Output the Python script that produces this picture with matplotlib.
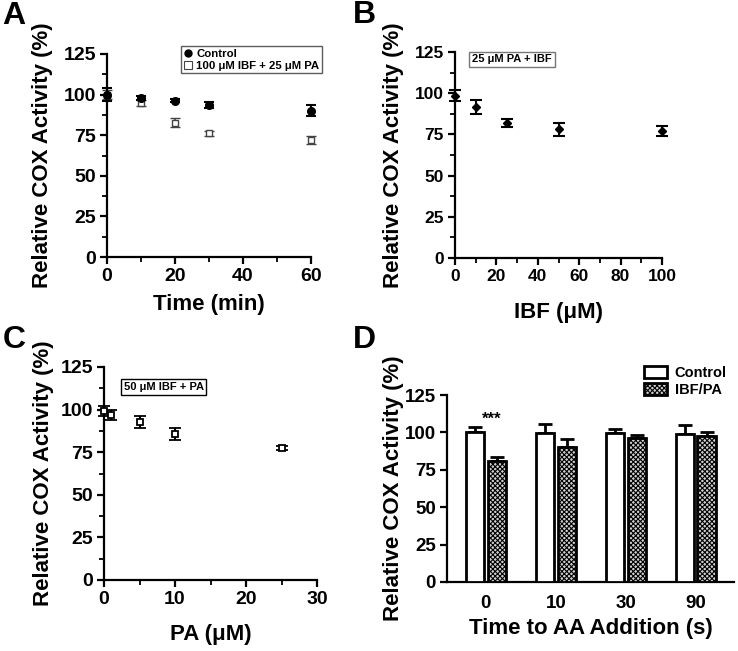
import matplotlib
matplotlib.use("Agg")
import matplotlib.pyplot as plt
from matplotlib.lines import Line2D
from matplotlib.patches import Patch
import numpy as np

plt.rcParams['font.family'] = ['Liberation Sans', 'DejaVu Sans']
plt.rcParams['font.weight'] = 'bold'
plt.rcParams['hatch.linewidth'] = 0.8

# ---- data ----
a_time = [0, 10, 20, 30, 60]
a_ctrl = [100, 97.9, 96.3, 93.6, 90.0]
a_ctrl_err = [3.8, 1.5, 1.0, 2.0, 3.4]
a_trt = [100, 94.8, 82.8, 76.2, 71.9]
a_trt_err = [3.0, 2.0, 2.6, 1.5, 2.3]

b_ibf = [0, 10, 25, 50, 100]
b_val = [98.6, 91.5, 82.1, 78.0, 77.2]
b_err = [3.4, 4.3, 2.5, 3.8, 3.0]

c_pa = [0, 1, 5, 10, 25]
c_val = [99.4, 96.7, 92.7, 85.7, 77.5]
c_err = [3.0, 3.0, 3.5, 3.5, 1.0]

d_groups = ['0', '10', '30', '90']
d_ctrl = [100.4, 99.5, 99.3, 98.9]
d_ctrl_err = [3.4, 6.3, 2.9, 6.0]
d_trt = [81.2, 90.4, 96.4, 97.8]
d_trt_err = [2.5, 4.9, 1.6, 2.6]

W, H = 738, 651
fig = plt.figure(figsize=(W / 100, H / 100), dpi=100)


def add_ax(l, r, b, t):
    return fig.add_axes([l / W, 1 - b / H, (r - l) / W, (b - t) / H])


def style(ax, tick_fs):
    for s in ['top', 'right']:
        ax.spines[s].set_visible(False)
    for s in ['left', 'bottom']:
        ax.spines[s].set_linewidth(1.6)
    ax.tick_params(width=1.6, length=5, labelsize=tick_fs, pad=3)
    ax.tick_params(which='minor', width=1.3, length=3.5)
    for lab in ax.get_xticklabels() + ax.get_yticklabels():
        lab.set_fontweight('bold')
    ax.set_ylim(0, 125)
    ax.set_yticks([0, 25, 50, 75, 100, 125])


def labels(ax, xl, xy, yx, fs=16):
    ax.set_xlabel(xl, fontsize=fs, fontweight='bold')
    ax.set_ylabel('Relative COX Activity (%)', fontsize=fs, fontweight='bold')
    ax.xaxis.set_label_coords(0.5, xy)
    ax.xaxis.label.set_va('center')
    ax.yaxis.set_label_coords(yx, 0.5)
    ax.yaxis.label.set_va('center')


# ---- Panel A ----
axA = add_ax(107, 311, 257, 54)
style(axA, 14)
axA.set_xlim(0, 60)
axA.set_xticks([0, 20, 40, 60])
axA.set_xticks([10, 30, 50], minor=True)
axA.set_yticks(np.arange(12.5, 125, 25), minor=True)
axA.errorbar(a_time, a_trt, yerr=a_trt_err, fmt='s', ms=5, mfc='white', mec='#444444',
             mew=1.0, ecolor='#444444', elinewidth=1.2, capsize=3.5, capthick=1.2,
             clip_on=False, zorder=3)
axA.errorbar(a_time, a_ctrl, yerr=a_ctrl_err, fmt='o', ms=5.5, color='black',
             elinewidth=1.5, capsize=3.5, capthick=1.5, clip_on=False, zorder=4)
labels(axA, 'Time (min)', -0.236, -0.314)
hA = [Line2D([], [], marker='o', ls='none', color='black', ms=5),
      Line2D([], [], marker='s', ls='none', mfc='white', mec='#444444', ms=6, mew=0.8)]
legA = fig.legend(hA, ['Control', '100 \u03bcM IBF + 25 \u03bcM PA'],
                  loc='upper left', bbox_to_anchor=(181 / W, 1 - 46 / H),
                  prop={'size': 8.2, 'weight': 'bold'}, frameon=True, fancybox=False,
                  edgecolor='#333333', handlelength=0.8, handletextpad=0.3,
                  borderpad=0.25, labelspacing=0.15, borderaxespad=0)
legA.get_frame().set_linewidth(1.0)

# ---- Panel B ----
axB = add_ax(455, 662, 258, 52)
style(axB, 12.5)
axB.set_xlim(0, 100)
axB.set_xticks([0, 20, 40, 60, 80, 100])
axB.set_xticks([10, 30, 50, 70, 90], minor=True)
axB.set_yticks(np.arange(12.5, 125, 25), minor=True)
axB.errorbar(b_ibf, b_val, yerr=b_err, fmt='D', ms=4, color='black',
             elinewidth=1.5, capsize=4, capthick=1.5, clip_on=False, zorder=3)
labels(axB, 'IBF (\u03bcM)', -0.263, -0.295)
fig.text(512 / W, 1 - 59.5 / H, '25 \u03bcM PA + IBF', fontsize=8, fontweight='bold',
         ha='center', va='center',
         bbox=dict(boxstyle='square,pad=0.25', fc='white', ec='#777777', lw=1.0))

# ---- Panel C ----
axC = add_ax(104, 317, 580, 367)
style(axC, 14)
axC.set_xlim(0, 30)
axC.set_xticks([0, 10, 20, 30])
axC.set_xticks([5, 15, 25], minor=True)
axC.set_yticks(np.arange(12.5, 125, 25), minor=True)
axC.errorbar(c_pa, c_val, yerr=c_err, fmt='s', ms=5, mfc='white', mec='black', mew=1.3,
             ecolor='black', elinewidth=1.5, capsize=4, capthick=1.5,
             clip_on=False, zorder=3)
labels(axC, 'PA (\u03bcM)', -0.258, -0.286)
fig.text(163.5 / W, 1 - 387 / H, '50 \u03bcM IBF + PA', fontsize=8, fontweight='bold',
         ha='center', va='center',
         bbox=dict(boxstyle='square,pad=0.25', fc='white', ec='black', lw=1.0))

# ---- Panel D ----
axD = add_ax(447, 734, 582, 395)
style(axD, 13.5)
x = np.arange(len(d_groups))
off, bw = 0.157, 0.26
hatch_fc = '#d0d0d0'
axD.bar(x - off, d_ctrl, bw, color='white', edgecolor='black', linewidth=2.0, zorder=3)
axD.bar(x + off, d_trt, bw, color=hatch_fc, edgecolor='black', linewidth=2.0,
        hatch='xxxxxxx', zorder=3)
axD.errorbar(x - off, d_ctrl, yerr=[np.zeros(4), d_ctrl_err], fmt='none', ecolor='black',
             elinewidth=2.0, capsize=5, capthick=2.0, zorder=2)
axD.errorbar(x + off, d_trt, yerr=[np.zeros(4), d_trt_err], fmt='none', ecolor='black',
             elinewidth=2.0, capsize=5, capthick=2.0, zorder=2)
axD.set_xlim(-0.557, 3.55)
axD.set_xticks(x)
axD.set_xticklabels(d_groups, fontsize=13.5, fontweight='bold')
axD.tick_params(axis='x', length=0, pad=9)
axD.text(0.08, 108.5, '***', ha='center', va='center', fontsize=12, fontweight='bold')
labels(axD, 'Time to AA Addition (s)', -0.246, -0.185)
hD = [Patch(fc='white', ec='black', lw=2.0),
      Patch(fc=hatch_fc, ec='black', lw=2.0, hatch='xxxxxxx')]
legD = fig.legend(hD, ['Control', 'IBF/PA'], loc='upper left',
                  bbox_to_anchor=(644 / W, 1 - 366 / H),
                  prop={'size': 10.5, 'weight': 'bold'}, frameon=False,
                  handlelength=1.6, handleheight=0.9, handletextpad=0.5,
                  labelspacing=0.2, borderpad=0, borderaxespad=0)

# ---- panel letters ----
for lbl, (px, py) in zip('ABCD', [(14, 16), (364, 15), (14, 340), (364, 340)]):
    fig.text(px / W, 1 - py / H, lbl, fontsize=23, fontweight='bold', ha='center', va='center')

fig.savefig('out.png', dpi=100)
